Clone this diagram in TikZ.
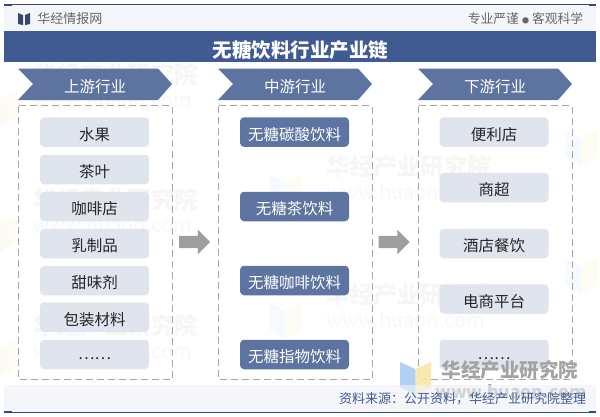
\documentclass[tikz,border=0pt]{standalone}
\usepackage{fontspec}
\usepackage{xcolor}
\usetikzlibrary{shapes.arrows}
\setmainfont{Noto Sans CJK SC}
\definecolor{navy}{HTML}{3F5B92}
\definecolor{steel}{HTML}{5C749F}
\definecolor{pale}{HTML}{E0E4ED}
\definecolor{strip}{HTML}{F4F6FA}
\definecolor{mark}{HTML}{A3A3A3}
\definecolor{logoblue}{HTML}{A9CBF2}
\definecolor{logoyellow}{HTML}{FAE7A6}

\begin{document}
\begin{tikzpicture}[x=1pt,y=-1pt]
  \tikzset{chevron/.style={fill=steel,draw=none}}
  \tikzset{cell/.style={fill=pale,rounded corners=4pt,minimum width=109pt,minimum height=29.5pt,inner sep=0pt,text height=16pt,text depth=0pt,font=\fontsize{15.5}{16}\selectfont,text=black!85}}
  \tikzset{darkcell/.style={cell,fill=steel,text=white}}
  \tikzset{frame/.style={draw=gray!70,dash pattern=on 7pt off 4pt,line width=0.7pt}}
  \tikzset{flow/.style={single arrow,fill=black!38,minimum width=24pt,minimum height=31pt,single arrow head extend=6pt,inner sep=6pt}}
  \tikzset{faintname/.style={text=black!3.5,anchor=west,font=\fontsize{23.5}{24}\selectfont\bfseries}}
  \tikzset{faintweb/.style={text=black!3,anchor=west,font=\fontsize{20}{21}\selectfont}}
  \useasboundingbox (0,0) rectangle (600,416);
  % bands
  \fill[strip] (4,5) rectangle (596,31);
  \fill[strip] (4,385) rectangle (596,412);
  % watermarks
  \foreach \a/\b in {-15/90,-15/215,-15/340,270/175,270/303,565/130,565/258}{
    \fill[logoblue!10] (\a,\b) -- (\a+16,\b+8) -- (\a+16,\b+36) -- (\a,\b+27) -- cycle;
    \fill[logoyellow!15] (\a+32,\b) -- (\a+16,\b+8) -- (\a+16,\b+36) -- (\a+32,\b+27) -- cycle;
  }
  \foreach \a/\b in {30/75,30/200,30/326,323/167,323/295}{
    \node[faintname] at (\a,\b) {华经产业研究院};
    \node[faintweb] at (\a,\b+25) {www.huaon.com};
  }
  \fill[navy] (4,31) rectangle (596,62);
  \draw[navy!80!black,line width=0.7pt] (4,4.5) -- (596,4.5);
  \draw[navy!80!black,line width=0.7pt] (4,412) -- (596,412);
  \fill[navy!80!black] (4,3.5) rectangle (12,5.5);
  \fill[navy!80!black] (589,3.5) rectangle (596,5.5);
  \fill[navy!80!black] (4,411) rectangle (12,413);
  \fill[navy!80!black] (589,411) rectangle (596,413);
  % logo top left
  \fill[navy!80!black] (18,13) -- (23,15) -- (23,25) -- (18,24) -- cycle;
  \fill[navy!80!black] (30,13) -- (25,15) -- (25,25) -- (30,24) -- cycle;
  \node[text=black!60,font=\fontsize{13}{14}\selectfont] (site) at (70,19) {华经情报网};
  \node[text=black!60,font=\fontsize{12.8}{14}\selectfont] (motto) at (525.5,19) {专业严谨\hspace{3pt}{\fontsize{7}{7}\selectfont ●}\hspace{3pt}客观科学};
  \node[text=white,font=\fontsize{19.5}{20}\selectfont\bfseries] (title) at (300.5,50) {无糖饮料行业产业链};
  % chevrons
  \foreach \a/\t/\n in {18/上游行业/up,218/中游行业/mid,418/下游行业/down}{
    \fill[chevron] (\a,68.5) -- (\a+140,68.5) -- (\a+154,84) -- (\a+140,100) -- (\a,100) -- (\a+15,84) -- cycle;
    \node[text=white,font=\fontsize{15.5}{16}\selectfont] (\n) at (\a+77,87) {\t};
    \draw[frame] (\a,105.5) rectangle (\a+154,379);
  }
  % upstream
  \node[cell] (fruit) at (94.5,132) {水果};
  \node[cell] (tea) at (94.5,169.5) {茶叶};
  \node[cell] (cafe) at (94.5,206.5) {咖啡店};
  \node[cell] (dairy) at (94.5,243.5) {乳制品};
  \node[cell] (sweet) at (94.5,280.5) {甜味剂};
  \node[cell] (pack) at (94.5,317) {包装材料};
  \node[cell,text height=9pt] (upmore) at (94.5,354.5) {……};
  % midstream
  \node[darkcell] (soda) at (294.5,132) {无糖碳酸饮料};
  \node[darkcell] (teadrink) at (294.5,206.5) {无糖茶饮料};
  \node[darkcell] (coffee) at (294.5,280.5) {无糖咖啡饮料};
  \node[darkcell] (plant) at (294.5,354.5) {无糖指物饮料};
  % downstream
  \node[cell] (store) at (494,132) {便利店};
  \node[cell] (mall) at (494,187.5) {商超};
  \node[cell] (hotel) at (494,243.5) {酒店餐饮};
  \node[cell] (online) at (494,299) {电商平台};
  \node[cell,text height=9pt] (downmore) at (494,354.5) {……};
  % flow arrows
  \node[flow] (upflow) at (191.5,242) {};
  \node[flow] (downflow) at (391,242) {};
  % watermark front
  \fill[logoblue,opacity=0.9] (400,362) -- (415.5,369) -- (415.5,395) -- (400,387) -- cycle;
  \fill[logoyellow,opacity=0.9] (431,362) -- (415.5,369) -- (415.5,395) -- (431,387) -- cycle;
  \node[text=mark,font=\fontsize{19.5}{20}\selectfont\bfseries] (markname) at (510,370.5) {华经产业研究院};
  \node[text=mark,font=\fontsize{17.5}{18}\selectfont\bfseries] (markweb) at (511,391.5) {www.huaon.com};
  \fill[strip,opacity=0.6] (400,385) rectangle (596,411);
  \node[text=navy,font=\fontsize{13}{14}\selectfont] (source) at (462.5,399) {资料来源：公开资料，华经产业研究院整理};
\end{tikzpicture}
\end{document}
